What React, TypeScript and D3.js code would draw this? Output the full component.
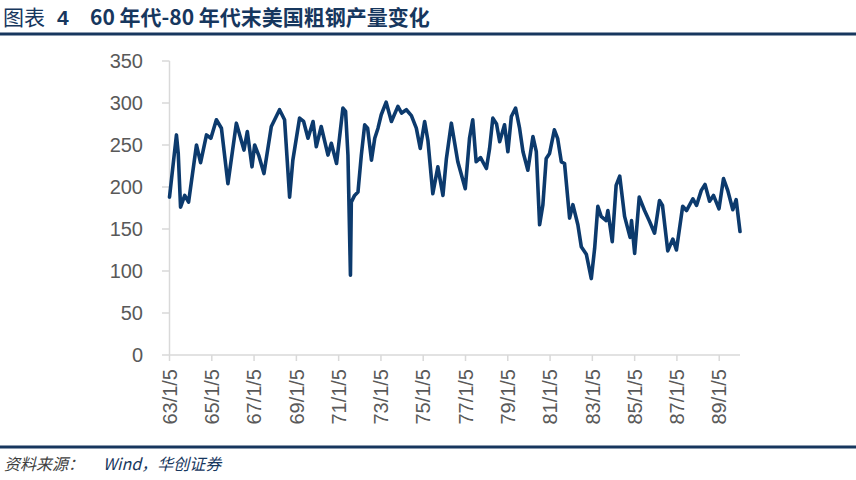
import React from "react";
import * as d3 from "d3";

// weekly US crude steel output (approx.)
const dates = [
  "1963-01-05", "1963-05-05", "1963-06-05", "1963-07-15", "1963-09-25", "1963-12-01",
  "1964-04-15", "1964-06-25", "1964-10-05", "1964-12-20", "1965-03-25", "1965-06-20",
  "1965-10-10", "1966-03-05", "1966-07-15", "1966-09-10", "1966-11-30", "1967-01-15",
  "1967-03-25", "1967-06-25", "1967-10-30", "1968-03-20", "1968-06-15", "1968-09-10",
  "1968-11-05", "1969-03-01", "1969-05-10", "1969-07-25", "1969-10-20", "1969-12-15",
  "1970-03-10", "1970-07-05", "1970-09-01", "1970-11-30", "1971-03-20", "1971-05-05",
  "1971-06-15", "1971-07-28", "1971-08-12", "1971-10-08", "1971-12-05", "1972-02-01",
  "1972-03-30", "1972-05-20", "1972-07-25", "1972-09-20", "1972-11-15", "1973-01-10",
  "1973-04-05", "1973-07-05", "1973-10-25", "1973-12-28", "1974-03-20", "1974-06-15",
  "1974-09-08", "1974-11-15", "1975-01-30", "1975-03-28", "1975-06-20", "1975-09-15",
  "1975-12-12", "1976-02-10", "1976-05-05", "1976-08-25", "1977-01-01", "1977-03-15",
  "1977-05-10", "1977-07-08", "1977-09-22", "1978-01-01", "1978-02-25", "1978-04-22",
  "1978-06-25", "1978-08-18", "1978-11-10", "1979-01-07", "1979-03-08", "1979-05-20",
  "1979-07-28", "1979-09-25", "1979-12-18", "1980-03-15", "1980-05-12", "1980-07-08",
  "1980-09-03", "1980-10-30", "1980-12-27", "1981-03-20", "1981-05-15", "1981-07-18",
  "1981-09-12", "1981-12-08", "1982-02-03", "1982-04-30", "1982-06-28", "1982-09-23",
  "1982-12-18", "1983-02-14", "1983-04-10", "1983-06-06", "1983-09-01", "1983-09-30",
  "1983-12-15", "1984-02-20", "1984-04-22", "1984-07-15", "1984-10-18", "1984-11-12",
  "1985-01-05", "1985-03-25", "1985-06-25", "1985-09-20", "1985-12-15", "1986-03-10",
  "1986-05-01", "1986-07-31", "1986-10-27", "1986-12-28", "1987-04-15", "1987-06-20",
  "1987-10-08", "1987-12-10", "1988-03-01", "1988-05-05", "1988-07-22", "1988-09-28",
  "1989-01-01", "1989-03-20", "1989-06-01", "1989-08-28", "1989-10-25", "1989-12-30",
];

const output = [
  188, 262, 240, 176, 190, 182,
  250, 229, 262, 258, 280, 270,
  204, 276, 244, 266, 224, 250,
  238, 216, 272, 292, 280, 188,
  232, 282, 278, 258, 278, 248,
  272, 238, 252, 228, 294, 290,
  238, 95, 182, 190, 194, 238,
  274, 270, 232, 258, 270, 286,
  301, 278, 296, 288, 292, 285,
  270, 246, 278, 255, 192, 224,
  190, 234, 276, 230, 198, 258,
  280, 230, 235, 222, 246, 282,
  275, 254, 274, 242, 284, 294,
  270, 242, 220, 260, 242, 155,
  179, 234, 240, 268, 258, 230,
  228, 163, 179, 155, 129, 120,
  91, 127, 177, 165, 160, 172,
  135, 202, 213, 165, 140, 160,
  121, 188, 172, 159, 145, 184,
  178, 124, 138, 125, 177, 172,
  186, 178, 196, 203, 183, 190,
  174, 210, 196, 173, 185, 147,
];

const xTickDates = [
  "1963-01-05", "1965-01-05", "1967-01-05", "1969-01-05", "1971-01-05",
  "1973-01-05", "1975-01-05", "1977-01-05", "1979-01-05", "1981-01-05",
  "1983-01-05", "1985-01-05", "1987-01-05", "1989-01-05",
];
const xTickLabels = [
  "63/1/5", "65/1/5", "67/1/5", "69/1/5", "71/1/5", "73/1/5", "75/1/5",
  "77/1/5", "79/1/5", "81/1/5", "83/1/5", "85/1/5", "87/1/5", "89/1/5",
];
const yTicks = [0, 50, 100, 150, 200, 250, 300, 350];

const titleText = "60 年代-80 年代末美国粗钢产量变化";
const sourceLabel = "资料来源：";
const sourceText = "Wind，华创证券";

const W = 856;
const H = 480;
const NAVY = "#17375e";
const LINE = "#0c3a6d";
const AXIS = "#d9d9d9";
const TXT = "#595959";
const FONT = "'Liberation Sans', Arial, 'Noto Sans CJK SC', sans-serif";
const CJK = "'Noto Sans CJK SC', 'Liberation Sans', sans-serif";

export default function App() {
  const parse = d3.timeParse("%Y-%m-%d");
  const points = dates.map((d, i) => ({ date: parse(d) as Date, value: output[i] }));

  const x = d3
    .scaleTime()
    .domain([points[0].date, points[points.length - 1].date])
    .range([169.5, 740]);
  const y = d3.scaleLinear().domain([0, 350]).range([355, 61]);

  const line = d3
    .line<{ date: Date; value: number }>()
    .x((d) => x(d.date))
    .y((d) => y(d.value));

  return (
    <svg
      width={W}
      height={H}
      style={{ position: "absolute", left: 0, top: 0, background: "#fff" }}
    >
      <rect width={W} height={H} fill="#fff" />

      {/* title */}
      <text x={3} y={25} fontSize={21} fill={NAVY} fontFamily={CJK}>
        <tspan>图表</tspan>
        <tspan x={57} fontWeight="bold" fontFamily={FONT}>4</tspan>
        <tspan x={90} fontWeight="bold">{titleText}</tspan>
      </text>
      <line x1={0} x2={W} y1={34} y2={34} stroke={NAVY} strokeWidth={3} />

      {/* y axis */}
      <line x1={169.5} x2={169.5} y1={y(350)} y2={y(0)} stroke={AXIS} strokeWidth={1.5} />
      {yTicks.map((t) => (
        <g key={t}>
          <line x1={162} x2={169.5} y1={y(t)} y2={y(t)} stroke={AXIS} strokeWidth={1.5} />
          <text
            x={143}
            y={y(t)}
            dy="0.36em"
            textAnchor="end"
            fontSize={20}
            fill={TXT}
            fontFamily={FONT}
          >
            {t}
          </text>
        </g>
      ))}

      {/* x axis */}
      <line x1={169.5} x2={740} y1={y(0)} y2={y(0)} stroke={AXIS} strokeWidth={1.5} />
      {xTickDates.map((d, i) => {
        const px = x(parse(d) as Date);
        return (
          <g key={d}>
            <line x1={px} x2={px} y1={y(0)} y2={y(0) + 6} stroke={AXIS} strokeWidth={1.5} />
            <text
              transform={`translate(${px},369) rotate(-90)`}
              dy="0.36em"
              textAnchor="end"
              fontSize={20}
              fill={TXT}
              fontFamily={FONT}
            >
              {xTickLabels[i]}
            </text>
          </g>
        );
      })}

      {/* series */}
      <path
        d={line(points) || ""}
        fill="none"
        stroke={LINE}
        strokeWidth={3.6}
        strokeLinejoin="round"
        strokeLinecap="round"
      />

      {/* source */}
      <line x1={0} x2={W} y1={447} y2={447} stroke={NAVY} strokeWidth={3} />
      <text x={4} y={470} fontSize={16} fontStyle="italic" fontFamily={CJK}>
        <tspan fill="#404040">{sourceLabel}</tspan>
        <tspan x={103} fill={NAVY}>{sourceText}</tspan>
      </text>
    </svg>
  );
}
